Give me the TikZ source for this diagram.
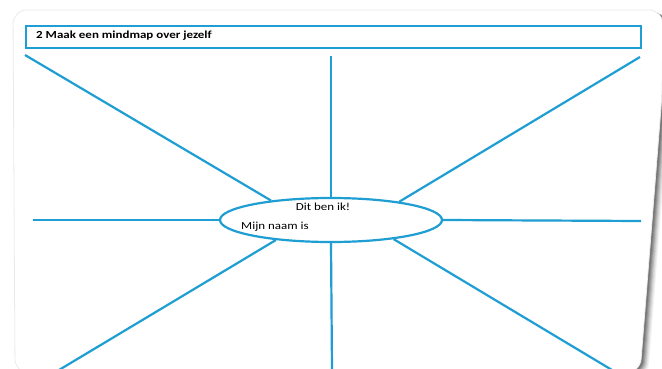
\documentclass[tikz,border=0pt]{standalone}
\usepackage{fontspec}
\setmainfont{Carlito}
\newfontfamily\mmfont[FakeStretch=1.2]{Carlito}
\definecolor{mmblue}{RGB}{30,158,210}
\definecolor{mmedge}{RGB}{235,235,235}
\tikzset{
  branch/.style={draw=mmblue, line width=2.2pt},
  mmtitle/.style={draw=mmblue, line width=2.2pt, minimum width=615pt, minimum height=22pt, inner sep=0pt},
  centre/.style={ellipse, draw=mmblue, line width=2.2pt, fill=white, minimum width=222pt, minimum height=44pt, inner sep=0pt},
  label/.style={font=\mmfont\fontsize{10.8}{12}\selectfont, inner sep=0pt}
}
\usetikzlibrary{shapes.geometric}
\begin{document}
\begin{tikzpicture}[x=1pt,y=-1pt]
\useasboundingbox (0,0) rectangle (662,369);
% shadow
\foreach \d/\o in {8/0.05,7/0.06,6/0.08,5/0.1,4/0.12,3/0.14,2/0.16}
  \fill[black, opacity=\o, rounded corners=14pt, shift={(\d,\d*0.5)}]
    (13,10) -- (663,10) -- (662,95) -- (640,373) -- (15,373) -- cycle;
% page
\filldraw[fill=white, draw=mmedge, line width=0.8pt, rounded corners=14pt]
    (13,10) -- (663,10) -- (662,95) -- (640,373) -- (15,373) -- cycle;
% title
\node[mmtitle, anchor=north west] (tb) at (25,25) {};
\node[label, font=\mmfont\bfseries\fontsize{10.8}{12}\selectfont, anchor=west] (tt) at (36,36) {2 Maak een mindmap over jezelf};
% centre
\node[centre] (c) at (331,220) {};
\node[label, anchor=base] (dit) at (323,210) {Dit ben ik!};
\node[label, anchor=base west] (naam) at (241,229) {Mijn naam is};
% branch ends
\coordinate (ul) at (25,55);
\coordinate (ur) at (640,57);
\coordinate (up) at (331,56);
\coordinate (lf) at (33,220);
\coordinate (rt) at (641,221);
\coordinate (ll) at (59,370);
\coordinate (dn) at (332,370);
\coordinate (lr) at (612,370);
\draw[branch] (ul) -- (c.162);
\draw[branch] (ur) -- (c.15);
\draw[branch] (up) -- (c.north);
\draw[branch] (lf) -- (c.west);
\draw[branch] (rt) -- (c.east);
\draw[branch] (ll) -- (c.200);
\draw[branch] (dn) -- (c.south);
\draw[branch] (lr) -- (c.343);
\end{tikzpicture}
\end{document}
